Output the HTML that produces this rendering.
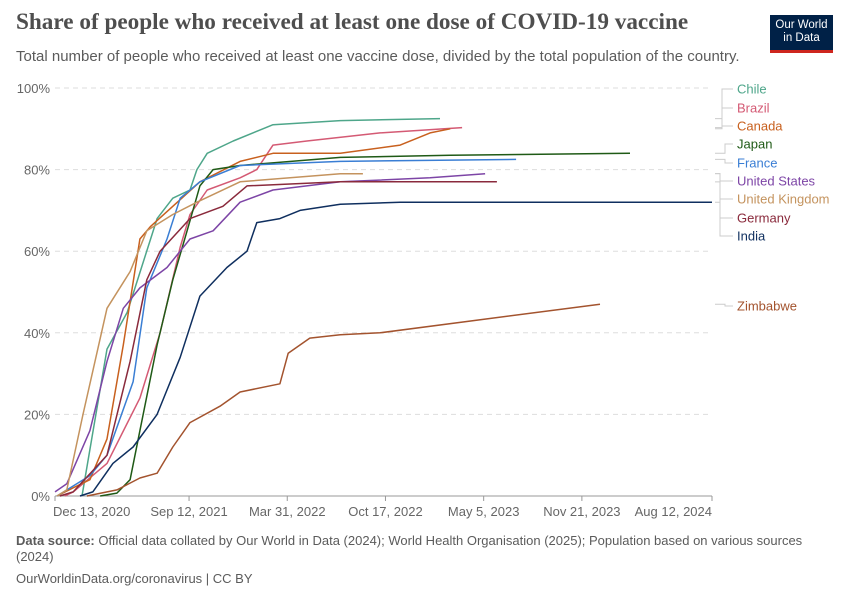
<!DOCTYPE html>
<html><head><meta charset="utf-8">
<style>
body{margin:0;background:#fff;font-family:"Liberation Sans",sans-serif;}
#wrap{position:relative;width:850px;height:600px;overflow:hidden;}
.title{position:absolute;left:16px;top:9px;font-family:"Liberation Serif",serif;font-size:23.2px;font-weight:bold;color:#4e4e4e;}
.sub{position:absolute;left:16px;top:48px;font-size:15px;color:#5b5b5b;}
.logo{position:absolute;left:770px;top:15px;width:63px;height:38px;background:#002147;color:#fff;font-size:11.5px;line-height:13px;text-align:center;padding-top:4px;box-sizing:border-box;border-bottom:3px solid #ce261e;}
.foot{position:absolute;left:16px;font-size:13px;color:#5b5b5b;}
</style></head><body>
<div id="wrap">
<div class="title">Share of people who received at least one dose of COVID-19 vaccine</div>
<div class="sub">Total number of people who received at least one vaccine dose, divided by the total population of the country.</div>
<div class="logo">Our World<br>in Data</div>
<svg id="chart" width="850" height="600" style="position:absolute;left:0;top:0"></svg>
<div class="foot" style="top:533px;width:790px;line-height:16px"><b>Data source:</b> Official data collated by Our World in Data (2024); World Health Organisation (2025); Population based on various sources (2024)</div>
<div class="foot" style="top:571px">OurWorldinData.org/coronavirus | CC BY</div>
</div>
<script>
const yTicks=[0,20,40,60,80,100];
const xTickDays=[0,273,473,673,873,1073,1338];
const xTickLabels=["Dec 13, 2020","Sep 12, 2021","Mar 31, 2022","Oct 17, 2022","May 5, 2023","Nov 21, 2023","Aug 12, 2024"];
const countries=["Chile","Brazil","Canada","Japan","France","United States","United Kingdom","Germany","India","Zimbabwe"];
const colors=["#4ea68a","#d45a74","#c8601e","#1f5a16","#3a7ed4","#7d45a6","#c4935e","#8a2a3c","#0f2f5f","#a3532e"];
const labelY=[89,108,126,144,163,181,199,218,236,306];
const chileDays=[55,106,147,208,240,275,289,310,363,444,581,784];
const chileVals=[0,36,45,68,73,75,80,84,87,91,92,92.5];
const brazilDays=[20,37,106,173,214,255,275,310,377,411,444,513,662,829];
const brazilVals=[0,1,8,24,40,61,69,75,78,80,86,87,89,90.3];
const canadaDays=[4,37,71,106,139,173,194,240,295,377,444,581,703,764,805];
const canadaVals=[0,2,4,14,37,63,66,71,77,82,84,84,86,89,90];
const japanDays=[92,126,153,173,208,240,269,295,322,377,581,805,1171];
const japanVals=[0,0.7,4,16,37,53,65,76,80,81,83,83.5,84];
const franceDays=[4,71,106,159,187,228,255,295,377,581,939];
const franceVals=[0,5,10,28,51,63,73,77,81,82,82.5];
const usDays=[0,24,71,106,139,173,228,275,322,377,444,581,764,876];
const usVals=[1,3,16,33,46,51,56,63,65,72,75,77,78,79];
const ukDays=[4,24,57,106,153,187,240,289,377,581,627];
const ukVals=[0,1.5,20,46,55,65,69,72,77,79,79];
const germanyDays=[10,37,106,153,187,214,275,342,391,581,900];
const germanyVals=[0,1,10,33,53,60,68,71,76,77,77];
const indiaDays=[51,77,118,159,208,255,295,350,391,411,458,499,581,703,1338];
const indiaVals=[0,1,8,12,20,34,49,56,60,67,68,70,71.5,72,72];
const zimDays=[65,126,173,208,240,275,336,377,458,475,519,581,662,1110];
const zimVals=[0,1.5,4.4,5.6,12,18,22,25.5,27.5,35,38.7,39.5,40,47];
const seriesDays=[chileDays,brazilDays,canadaDays,japanDays,franceDays,usDays,ukDays,germanyDays,indiaDays,zimDays];
const seriesVals=[chileVals,brazilVals,canadaVals,japanVals,franceVals,usVals,ukVals,germanyVals,indiaVals,zimVals];

const X0=55,X1=712,Y0=496,Y1=88,DMAX=1338;
const xs=d=>X0+(d/DMAX)*(X1-X0);
const ys=v=>Y0-(v/100)*(Y0-Y1);
const svg=document.getElementById('chart');
const NS="http://www.w3.org/2000/svg";
function mk(tag,attrs){const e=document.createElementNS(NS,tag);for(const k in attrs)e.setAttribute(k,attrs[k]);svg.appendChild(e);return e;}
yTicks.forEach(v=>{
  if(v>0){const g=mk('line',{x1:X0,x2:X1,y1:ys(v),y2:ys(v),stroke:'#ddd','stroke-dasharray':'5,4'});
  
  }
  const t=mk('text',{x:50,y:ys(v)+5,'text-anchor':'end','font-size':13,fill:'#666','font-family':'Liberation Sans, sans-serif'});
  t.textContent=v+'%';
  
  
});
const ax=mk('line',{x1:X0,x2:X1,y1:Y0,y2:Y0,stroke:'#999'});


xTickDays.forEach((d,i)=>{
  const tk=mk('line',{x1:xs(d),x2:xs(d),y1:Y0,y2:Y0+5,stroke:'#999'});
  
  
  const anchor=i==0?'start':(i==xTickDays.length-1?'end':'middle');
  const t=mk('text',{x:i==0?xs(d)-2:xs(d),y:Y0+20,'text-anchor':anchor,'font-size':13,fill:'#666','font-family':'Liberation Sans, sans-serif'});
  t.textContent=xTickLabels[i];
  
  
});
seriesDays.forEach((days,i)=>{
  const vals=seriesVals[i];
  const pts=days.map((d,j)=>xs(d).toFixed(1)+','+ys(vals[j]).toFixed(1)).join(' ');
  const p=mk('polyline',{points:pts,fill:'none',stroke:colors[i],'stroke-width':1.5,'stroke-linejoin':'round'});
  
  
  const ex=xs(days[days.length-1]),ey=ys(vals[vals.length-1]);
  const mid=i<3?722:(i<5?725:(i<9?720:725));
  const c=mk('polyline',{points:`${Math.max(ex+3,715)},${ey} ${mid},${ey} ${mid},${labelY[i]} ${733},${labelY[i]}`,fill:'none',stroke:'#ccc','stroke-width':1});
  
  
  const t=mk('text',{x:737,y:labelY[i]+4.5,'font-size':13,fill:colors[i],'font-family':'Liberation Sans, sans-serif'});
  t.textContent=countries[i];
  
  
});
</script>
</body></html>
